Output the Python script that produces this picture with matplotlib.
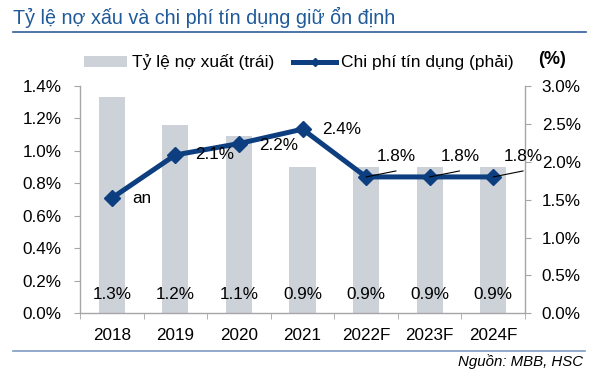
import matplotlib
matplotlib.use("Agg")
import matplotlib.pyplot as plt
from matplotlib.lines import Line2D
from matplotlib.patches import Patch
import numpy as np

plt.rcParams['font.family'] = ['Liberation Sans', 'DejaVu Sans']

categories = ["2018", "2019", "2020", "2021", "2022F", "2023F", "2024F"]
npl_ratio = [1.335, 1.16, 1.09, 0.90, 0.90, 0.90, 0.90]
npl_labels = ["1.3%", "1.2%", "1.1%", "0.9%", "0.9%", "0.9%", "0.9%"]
credit_cost = [1.52, 2.09, 2.24, 2.43, 1.80, 1.80, 1.80]
cost_labels = ["an", "2.1%", "2.2%", "2.4%", "1.8%", "1.8%", "1.8%"]
left_ticks = [0.0, 0.2, 0.4, 0.6, 0.8, 1.0, 1.2, 1.4]
right_ticks = [0.0, 0.5, 1.0, 1.5, 2.0, 2.5, 3.0]

title = "Tỷ lệ nợ xấu và chi phí tín dụng giữ ổn định"
legend_bar = "Tỷ lệ nợ xuất (trái)"
legend_line = "Chi phí tín dụng (phải)"
source = "Nguồn: MBB, HSC"

BAR = "#CDD2D9"
LINE = "#0D3F80"
TITLE_C = "#1F5A99"
SPINE = "#A6A6A6"
FS = 12.3

W, H = 599, 381
fig = plt.figure(figsize=(W / 100, H / 100), dpi=100)
ax = fig.add_axes([80 / W, 1 - 313.3 / H, 445 / W, (313.3 - 86) / H])
ax2 = ax.twinx()

x = np.arange(len(categories))
ax.bar(x, npl_ratio, width=0.41, color=BAR, zorder=1)
ax.set_ylim(0, 1.4)
ax.set_xlim(-0.5, len(categories) - 0.5)
ax.set_yticks(left_ticks)
ax.set_yticklabels([f"{v:.1f}%" for v in left_ticks], fontsize=FS)
ax.set_xticks(x)
ax.set_xticklabels(categories, fontsize=FS)
ax.set_xticks(np.arange(-0.5, len(categories)), minor=True)
ax.tick_params(axis='x', which='major', length=0, pad=10.5)
ax.tick_params(axis='x', which='minor', length=4, color=SPINE, direction='out')
ax.tick_params(axis='y', length=4, color=SPINE, pad=9.4, direction='out')

for i, lab in enumerate(npl_labels):
    ax.text(x[i], 0.113, lab, ha='center', va='center', fontsize=FS, zorder=3)

ax2.plot(x, credit_cost, color=LINE, lw=3.6, marker='D', ms=7.8, zorder=5)
ax2.set_ylim(0, 3.0)
ax2.set_yticks(right_ticks)
ax2.set_yticklabels([f"{v:.1f}%" for v in right_ticks], fontsize=FS)
ax2.tick_params(axis='y', length=4, color=SPINE, pad=8, direction='out')

for a in (ax, ax2):
    a.spines['top'].set_visible(False)
    for s in ('left', 'right', 'bottom'):
        a.spines[s].set_color(SPINE)
        a.spines[s].set_linewidth(1.0)
ax2.spines['left'].set_visible(False)
ax2.spines['bottom'].set_visible(False)
ax.spines['right'].set_visible(False)

for i, lab in enumerate(cost_labels):
    if lab == "1.8%":
        ax2.annotate("", xy=(x[i], credit_cost[i]), xytext=(30, 6),
                     textcoords='offset pixels',
                     arrowprops=dict(arrowstyle='-', lw=0.8, color='black',
                                     shrinkA=0, shrinkB=0), zorder=6)
        ax2.annotate(lab, xy=(x[i], credit_cost[i]), xytext=(11, 20),
                     textcoords='offset pixels', ha='left', va='center',
                     fontsize=FS, zorder=6)
    else:
        dy = -1.5 if lab == "2.2%" else 0
        ax2.annotate(lab, xy=(x[i], credit_cost[i]), xytext=(20, dy),
                     textcoords='offset pixels', ha='left', va='center',
                     fontsize=FS, zorder=6)

# legend
handles = [Patch(facecolor=BAR, edgecolor='none'),
           Line2D([], [], color=LINE, lw=3.6, marker='D', ms=4)]
fig.legend(handles, [legend_bar, legend_line], loc='center left',
           bbox_to_anchor=(84 / W, 1 - 62.5 / H), ncol=2, frameon=False,
           fontsize=12.5, handlelength=2.5, handleheight=0.55, handletextpad=0.25,
           columnspacing=1.1, borderpad=0, borderaxespad=0)
fig.text(538 / W, 1 - 59 / H, "(%)", fontsize=13, fontweight='bold',
         ha='left', va='center')

# title and rules
fig.text(13 / W, 1 - 23.5 / H, title, fontsize=14.2, color=TITLE_C,
         ha='left', va='baseline')
fig.add_artist(Line2D([13 / W, 586 / W], [1 - 32 / H, 1 - 32 / H],
                      color="#2F5D96", lw=1.2))
fig.add_artist(Line2D([13 / W, 585 / W], [1 - 351 / H, 1 - 351 / H],
                      color="#7F9CC2", lw=1.2))
fig.text(583 / W, 1 - 362 / H, source, fontsize=10.8, style='italic',
         ha='right', va='center')

fig.savefig("out.png", dpi=100)
